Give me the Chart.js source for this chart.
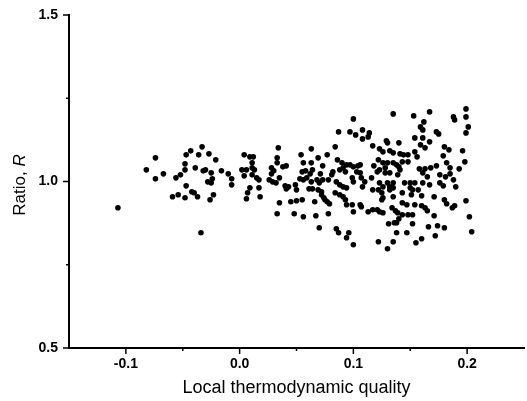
<!DOCTYPE html>
<html>
<head>
<meta charset="utf-8">
<script src="https://cdn.jsdelivr.net/npm/chart.js"></script>
<style>
  html, body { margin: 0; padding: 0; background: #fff; }
  #wrap { width: 527px; height: 401px; }
</style>
</head>
<body>
<div id="wrap"><canvas id="ratioChart" width="527" height="401"></canvas></div>
<script>
// local thermodynamic quality (x) and ratio R (y), point by point
let qualityX = [
  // x < 0
  -0.107,-0.082,-0.074,-0.074,-0.067,-0.056,-0.052,-0.059,-0.054,-0.048,
  -0.048,-0.048,-0.047,-0.043,-0.047,-0.042,-0.040,-0.037,-0.039,-0.036,
  -0.033,-0.034,-0.032,-0.030,-0.028,-0.027,-0.021,-0.025,-0.024,-0.025,
  -0.023,-0.026,-0.016,-0.010,-0.007,-0.007,
  // 0.00 - 0.02
  0.004,0.009,0.012,0.011,0.002,0.006,0.011,0.013,0.004,0.011,0.015,0.017,0.017,0.018,0.009,0.007,0.006,
  // 0.03 - 0.05
  0.034,0.033,0.033,0.028,0.030,0.028,0.026,0.029,0.032,0.035,0.038,0.041,0.040,0.041,0.043,0.049,0.050,
  0.035,0.045,0.050,0.033,0.048,0.056,
  // 0.05 - 0.08
  0.054,0.056,0.055,0.053,0.056,0.058,0.059,0.063,0.063,0.064,0.062,0.063,0.061,0.064,0.055,0.066,0.067,
  0.069,0.073,0.071,0.068,0.069,0.072,0.077,0.074,0.077,0.070,0.073,0.070,0.072,0.075,0.078,0.079,0.078,
  // 0.08 - 0.11
  0.084,0.087,0.097,0.102,0.100,0.108,0.108,0.114,0.113,0.082,0.081,0.086,0.090,0.091,0.088,0.093,
  0.094,0.097,0.100,0.104,0.106,0.103,0.106,0.085,0.088,0.091,0.094,0.099,0.100,0.107,0.110,0.108,
  0.084,0.088,0.091,0.093,0.094,0.099,0.100,0.106,0.107,0.113,0.085,0.087,0.094,0.096,0.100,
  // 0.11 - 0.14
  0.116,0.117,0.123,0.126,0.129,0.130,0.135,0.121,0.123,0.128,0.132,0.123,0.126,0.122,0.125,0.132,
  0.135,0.130,0.135,0.138,0.141,0.139,0.122,0.126,0.118,0.128,0.132,0.135,0.140,0.141,0.144,0.148,
  0.117,0.130,0.135,0.132,0.135,0.126,0.125,0.143,0.121,0.123,0.126,0.134,0.137,0.139,0.143,0.131,
  0.136,0.138,0.140,0.138,0.122,0.130,0.135,0.117,
  // 0.14 - 0.18
  0.143,0.140,0.145,0.150,0.154,0.150,0.152,0.157,0.151,0.143,0.147,0.154,0.148,0.152,0.152,0.147,
  0.155,0.148,0.153,0.154,0.154,0.156,0.159,0.161,0.162,0.161,0.167,0.159,0.163,0.167,0.158,0.163,
  0.168,0.161,0.165,0.167,0.161,0.160,0.160,0.163,0.165,0.166,0.160,0.171,0.173,0.173,0.175,0.171,
  0.174,0.180,0.172,
  // 0.18 - 0.21
  0.176,0.181,0.185,0.188,0.190,0.176,0.179,0.180,0.182,0.187,0.189,0.180,0.184,0.179,0.182,0.185,
  0.193,0.196,0.198,0.188,0.189,0.199,0.199,0.201,0.199,0.199,0.202,0.204
];
let ratioR = [
  0.921,1.035,1.071,1.008,1.023,1.011,1.020,0.954,0.960,0.951,
  1.053,1.035,1.080,1.092,0.987,0.969,0.966,0.954,1.041,1.080,
  1.104,0.846,1.032,1.035,0.999,1.083,1.065,1.026,1.008,0.996,
  0.960,0.945,1.032,1.023,1.008,0.990,

  1.080,1.074,1.074,1.056,1.035,1.035,1.041,1.035,1.017,1.020,1.011,1.005,0.981,0.954,0.981,0.966,0.948,

  1.101,1.071,1.056,1.041,1.032,1.023,1.005,0.999,0.996,1.011,1.044,1.047,0.987,0.978,0.984,0.990,0.975,
  0.936,0.939,0.942,0.903,0.903,0.894,

  1.080,1.056,1.029,1.008,1.005,1.032,1.011,1.098,1.056,1.035,1.023,0.999,0.978,0.978,0.945,0.939,0.897,
  1.071,1.047,1.023,1.005,0.975,0.960,1.080,0.951,0.939,0.861,1.005,0.996,0.969,0.945,1.005,0.933,0.903,

  1.104,1.149,1.149,1.140,1.188,1.155,1.128,1.146,1.134,1.029,1.020,1.065,1.056,1.041,1.035,1.029,
  1.050,1.050,1.044,1.047,1.050,1.029,1.026,0.999,0.990,0.984,0.981,1.011,0.999,1.011,0.999,0.984,
  0.966,0.960,0.954,0.945,0.930,0.930,0.909,0.930,0.924,0.909,0.858,0.846,0.831,0.846,0.810,

  1.011,1.107,1.098,1.089,1.122,1.116,1.203,1.029,1.035,1.026,1.026,0.996,0.984,0.975,0.966,0.984,
  0.981,1.056,1.056,1.050,1.035,1.020,1.065,1.056,1.047,1.041,1.092,1.086,1.116,1.083,1.080,1.080,
  0.975,0.996,0.996,0.975,0.954,0.951,0.945,0.966,0.915,0.909,0.906,0.921,0.912,0.906,0.900,0.873,
  0.876,0.876,0.888,0.846,0.819,0.798,0.819,0.915,

  1.059,1.044,0.996,0.996,0.996,0.981,0.975,0.975,0.960,0.936,0.930,0.930,0.900,0.900,0.873,0.846,
  0.816,1.059,1.197,1.131,1.089,1.074,1.164,1.155,1.179,1.131,1.119,1.110,1.101,1.209,1.038,1.038,
  1.041,1.026,1.014,0.990,0.996,0.957,0.927,0.921,0.912,0.864,0.828,0.954,1.047,1.149,1.143,0.897,
  0.867,0.861,0.837,

  1.020,1.014,1.023,1.005,0.984,0.996,0.987,0.945,0.933,0.921,0.927,1.104,1.095,1.077,1.056,1.041,
  1.038,1.092,1.059,1.194,1.185,1.218,1.194,1.164,1.146,0.942,0.894,0.849
];

let xTickLabels = ['-0.1', '0.0', '0.1', '0.2'];
let yTickLabels = ['0.5', '1.0', '1.5'];
let xMajor = [-0.1, 0.0, 0.1, 0.2];
let xMinor = [-0.05, 0.05, 0.15];
let yMajor = [0.5, 1.0, 1.5];
let yMinor = [0.75, 1.25];

let points = qualityX.map((q, i) => ({ x: q, y: ratioR[i] }));

// tick marks pointing outwards, long for major, short for minor
const tickMarks = {
  id: 'tickMarks',
  afterDraw(chart) {
    const ctx = chart.ctx;
    const xs = chart.scales.x, ys = chart.scales.y;
    const area = chart.chartArea;
    ctx.save();
    ctx.strokeStyle = '#000';
    ctx.lineWidth = 1.5;
    ctx.beginPath();
    xMajor.forEach(v => { const p = xs.getPixelForValue(v); ctx.moveTo(p, area.bottom); ctx.lineTo(p, area.bottom + 6); });
    xMinor.forEach(v => { const p = xs.getPixelForValue(v); ctx.moveTo(p, area.bottom); ctx.lineTo(p, area.bottom + 3); });
    yMajor.forEach(v => { const p = ys.getPixelForValue(v); ctx.moveTo(area.left, p); ctx.lineTo(area.left - 6, p); });
    yMinor.forEach(v => { const p = ys.getPixelForValue(v); ctx.moveTo(area.left, p); ctx.lineTo(area.left - 3, p); });
    ctx.stroke();
    ctx.restore();
  }
};

// y title with italic R
const yTitle = {
  id: 'yTitle',
  afterDraw(chart) {
    const ctx = chart.ctx;
    const a = 'Ratio, ', b = 'R';
    const fa = '17px "Liberation Sans", Arial, sans-serif';
    const fb = 'italic 17px "Liberation Sans", Arial, sans-serif';
    ctx.save();
    ctx.font = fa; const wa = ctx.measureText(a).width;
    ctx.font = fb; const wb = ctx.measureText(b).width;
    ctx.translate(20, 185);
    ctx.rotate(-Math.PI / 2);
    ctx.fillStyle = '#000';
    ctx.textBaseline = 'middle';
    ctx.textAlign = 'left';
    const start = -(wa + wb) / 2;
    ctx.font = fa; ctx.fillText(a, start, 0);
    ctx.font = fb; ctx.fillText(b, start + wa, 0);
    ctx.restore();
  }
};

function near(v, list) {
  for (let i = 0; i < list.length; i++) {
    if (Math.abs(v - list[i]) < 1e-6) return i;
  }
  return -1;
}

let ctx = document.getElementById('ratioChart').getContext('2d');
let chart = new Chart(ctx, {
  type: 'scatter',
  data: {
    datasets: [{
      label: 'R',
      data: points,
      pointRadius: 2.8,
      pointHoverRadius: 2.8,
      pointBackgroundColor: '#000',
      pointBorderWidth: 0
    }]
  },
  options: {
    responsive: false,
    animation: false,
    devicePixelRatio: 1,
    layout: { padding: { left: 0, top: 15, right: 3, bottom: 0 } },
    plugins: {
      legend: { display: false },
      tooltip: { enabled: false }
    },
    scales: {
      x: {
        type: 'linear',
        min: -0.15,
        max: 0.25,
        afterFit: s => { s.height = 53; s.paddingLeft = 0; s.paddingRight = 0; },
        grid: { display: false, drawTicks: false },
        border: { display: true, color: '#000', width: 2 },
        ticks: {
          stepSize: 0.05,
          padding: 8,
          color: '#000',
          font: { family: '"Liberation Sans", Arial, sans-serif', size: 14, weight: 'bold' },
          maxRotation: 0,
          autoSkip: false,
          callback: v => { const i = near(v, xMajor); return i >= 0 ? xTickLabels[i] : ''; }
        },
        title: {
          display: true,
          text: 'Local thermodynamic quality',
          color: '#000',
          font: { family: '"Liberation Sans", Arial, sans-serif', size: 18 },
          padding: { top: 0, bottom: 2 }
        }
      },
      y: {
        type: 'linear',
        min: 0.5,
        max: 1.5,
        afterFit: s => { s.width = 69; s.paddingTop = 0; s.paddingBottom = 0; },
        grid: { display: false, drawTicks: false },
        border: { display: true, color: '#000', width: 2 },
        ticks: {
          stepSize: 0.25,
          padding: 11,
          color: '#000',
          font: { family: '"Liberation Sans", Arial, sans-serif', size: 14, weight: 'bold' },
          autoSkip: false,
          callback: v => { const i = near(v, yMajor); return i >= 0 ? yTickLabels[i] : ''; }
        }
      }
    }
  },
  plugins: [tickMarks, yTitle]
});
</script>
</body>
</html>
